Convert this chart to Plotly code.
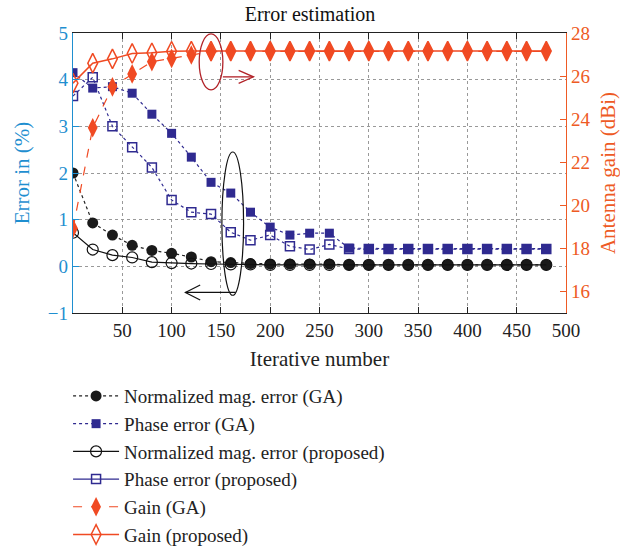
import plotly.graph_objects as go

x = [0, 20, 40, 60, 80, 100, 120, 140, 160, 180, 200, 220, 240, 260, 280, 300, 320, 340, 360, 380, 400, 420, 440, 460, 480]

mag_ga = [2.0, 0.93, 0.67, 0.45, 0.34, 0.28, 0.2, 0.1, 0.08, 0.06, 0.05, 0.05, 0.05, 0.05, 0.03, 0.03, 0.03, 0.03, 0.03, 0.03, 0.03, 0.03, 0.03, 0.03, 0.03]
phase_ga = [4.15, 3.82, 3.85, 3.71, 3.26, 2.85, 2.34, 1.8, 1.57, 1.16, 0.84, 0.67, 0.71, 0.71, 0.39, 0.38, 0.38, 0.38, 0.38, 0.38, 0.38, 0.38, 0.38, 0.38, 0.38]
mag_prop = [0.72, 0.36, 0.24, 0.19, 0.09, 0.07, 0.06, 0.05, 0.04, 0.04, 0.03, 0.03, 0.03, 0.03, 0.03, 0.03, 0.03, 0.03, 0.03, 0.03, 0.03, 0.03, 0.03, 0.03, 0.03]
phase_prop = [3.65, 4.05, 3.0, 2.55, 2.12, 1.42, 1.16, 1.12, 0.73, 0.56, 0.67, 0.43, 0.36, 0.47, 0.37, 0.37, 0.37, 0.37, 0.37, 0.37, 0.37, 0.37, 0.37, 0.37, 0.37]
gain_ga = [18.93, 23.6, 25.5, 26.1, 26.67, 26.82, 26.98, 27.13, 27.15, 27.15, 27.15, 27.15, 27.15, 27.15, 27.15, 27.15, 27.15, 27.15, 27.15, 27.15, 27.15, 27.15, 27.15, 27.15, 27.15]
gain_prop = [25.67, 26.6, 26.8, 27.05, 27.08, 27.15, 27.16, 27.16, 27.16, 27.16, 27.16, 27.16, 27.16, 27.16, 27.16, 27.16, 27.16, 27.16, 27.16, 27.16, 27.16, 27.16, 27.16, 27.16, 27.16]

x_ticks = [50, 100, 150, 200, 250, 300, 350, 400, 450, 500]
y_ticks = [-1, 0, 1, 2, 3, 4, 5]
y2_ticks = [16, 18, 20, 22, 24, 26, 28]

BLUE_AX = "#1f8fd0"
ORANGE_AX = "#ee5a24"
RED = "#f04a23"
NAVY = "#2f2a90"
FONT = "Liberation Serif"

fig = go.Figure()

fig.add_trace(go.Scatter(x=x, y=mag_ga, name="Normalized mag. error (GA)", mode="lines+markers",
                         line=dict(color="#222222", width=1.2, dash="dot"),
                         marker=dict(symbol="circle", size=11, color="#1a1a1a")))
fig.add_trace(go.Scatter(x=x, y=phase_ga, name="Phase error (GA)", mode="lines+markers",
                         line=dict(color=NAVY, width=1.2, dash="dot"),
                         marker=dict(symbol="square", size=9, color=NAVY)))
fig.add_trace(go.Scatter(x=x, y=mag_prop, name="Normalized mag. error (proposed)", mode="lines+markers",
                         line=dict(color="#111111", width=1.2),
                         marker=dict(symbol="circle-open", size=11, color="#111111", line=dict(width=1.2))))
fig.add_trace(go.Scatter(x=x, y=phase_prop, name="Phase error (proposed)", mode="lines+markers",
                         showlegend=False,
                         line=dict(color=NAVY, width=1.2, dash="dot"),
                         marker=dict(symbol="square-open", size=9, color=NAVY, line=dict(width=1.5))))
fig.add_trace(go.Scatter(x=[None], y=[None], name="Phase error (proposed)", mode="lines+markers",
                         line=dict(color=NAVY, width=1.2),
                         marker=dict(symbol="square-open", size=9, color=NAVY, line=dict(width=1.5))))
fig.add_trace(go.Scatter(x=x, y=gain_ga, name="Gain (GA)", mode="lines+markers", yaxis="y2",
                         line=dict(color=RED, width=1.2, dash="dash"),
                         marker=dict(symbol="diamond-tall", size=14, color=RED)))
fig.add_trace(go.Scatter(x=x, y=gain_prop, name="Gain (proposed)", mode="lines+markers", yaxis="y2",
                         line=dict(color=RED, width=1.5),
                         marker=dict(symbol="diamond-tall-open", size=14, color=RED, line=dict(width=1.5))))

# Annotation ellipses and arrows
DR = "#b22228"
fig.add_shape(type="circle", xref="x", yref="y", x0=128, x1=152, y0=3.78, y1=4.98,
              line=dict(color=DR, width=1.3))
fig.add_shape(type="line", xref="x", yref="y", x0=152, x1=183, y0=4.06, y1=4.06,
              line=dict(color=DR, width=1.3))
fig.add_shape(type="path", xref="x", yref="y",
              path="M 168,4.2 L 183,4.06 L 168,3.92", line=dict(color=DR, width=1.3))
fig.add_shape(type="circle", xref="x", yref="y", x0=151, x1=173, y0=-0.62, y1=2.45,
              line=dict(color="#111111", width=1.2))
fig.add_shape(type="line", xref="x", yref="y", x0=165, x1=114, y0=-0.56, y1=-0.56,
              line=dict(color="#111111", width=1.2))
fig.add_shape(type="path", xref="x", yref="y",
              path="M 129,-0.4 L 114,-0.56 L 129,-0.72", line=dict(color="#111111", width=1.2))

fig.update_layout(
    width=620, height=552,
    margin=dict(l=73, r=54, t=33, b=239, autoexpand=False),
    paper_bgcolor="white", plot_bgcolor="white",
    font=dict(family=FONT, size=19, color="#222222"),
    title=dict(text="Error estimation", x=0.5, xanchor="center", y=0.975, yanchor="middle",
               font=dict(family=FONT, size=20, color="#111111")),
    xaxis=dict(range=[0, 500], tickvals=x_ticks, ticks="inside", ticklen=6, tickcolor="#222",
               showline=True, linecolor="#222", linewidth=1.2, mirror="ticks",
               showgrid=True, gridcolor="#999999", griddash="dot", gridwidth=1, zeroline=False,
               title=dict(text="Iterative number", font=dict(size=21, color="#222"), standoff=11),
               tickfont=dict(size=19, color="#222")),
    yaxis=dict(range=[-1, 5], tickvals=y_ticks, ticks="inside", ticklen=6, tickcolor=BLUE_AX,
               showline=True, linecolor=BLUE_AX, linewidth=1.3,
               showgrid=True, gridcolor="#999999", griddash="dot", gridwidth=1, zeroline=False,
               title=dict(text="Error in (%)", font=dict(size=21, color=BLUE_AX), standoff=12),
               tickfont=dict(size=19, color=BLUE_AX)),
    yaxis2=dict(range=[15, 28], tickvals=y2_ticks, overlaying="y", side="right",
                ticks="inside", ticklen=6, tickcolor=ORANGE_AX,
                showline=True, linecolor=ORANGE_AX, linewidth=1.3, showgrid=False, zeroline=False,
                title=dict(text="Antenna gain (dBi)", font=dict(size=21, color=ORANGE_AX), standoff=11),
                tickfont=dict(size=19, color=ORANGE_AX)),
    legend=dict(x=-0.01, y=-0.229, xanchor="left", yanchor="top", bgcolor="rgba(0,0,0,0)",
                font=dict(family=FONT, size=19, color="#222"), itemwidth=46, tracegroupgap=0),
    showlegend=True,
)

fig.write_html("out.html")
